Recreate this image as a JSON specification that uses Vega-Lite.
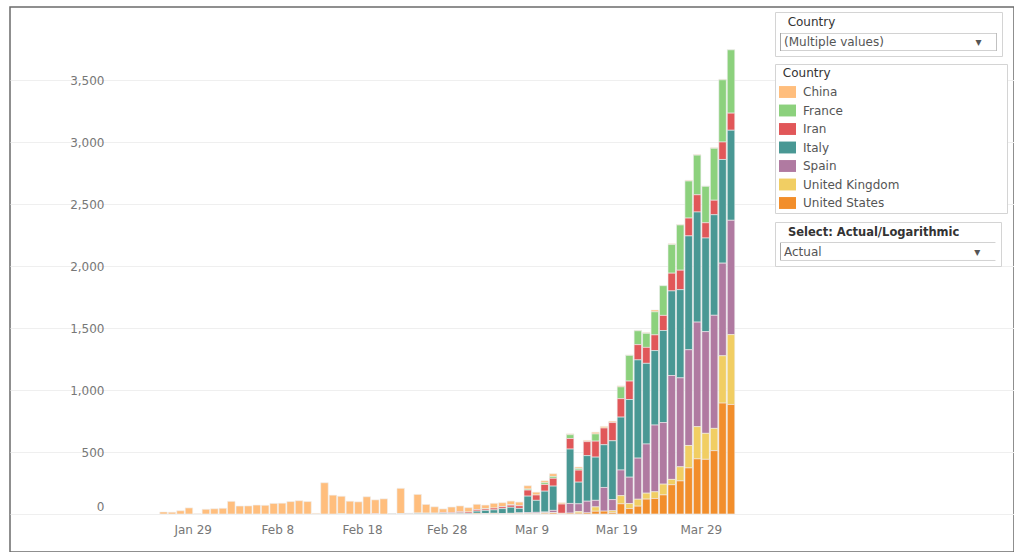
{
  "$schema": "https://vega.github.io/schema/vega-lite/v6.json",
  "width": 1004,
  "height": 545,
  "autosize": {"type": "none"},
  "padding": {"left": 10, "top": 7, "right": 0, "bottom": 0},
  "background": "white",
  "view": {"stroke": "#6b6b6b", "strokeWidth": 1.5},
  "config": {"font": "DejaVu Sans"},
  "resolve": {"scale": {"shape": "independent"}, "legend": {"shape": "independent"}},
  "layer": [
    {
      "data": {"values": [
        {"date":"2020-01-25","country":"China","deaths":16},{"date":"2020-01-26","country":"China","deaths":14},{"date":"2020-01-27","country":"China","deaths":26},{"date":"2020-01-28","country":"China","deaths":49},{"date":"2020-01-29","country":"China","deaths":2},{"date":"2020-01-30","country":"China","deaths":38},{"date":"2020-01-31","country":"China","deaths":42},
        {"date":"2020-02-01","country":"China","deaths":46},{"date":"2020-02-02","country":"China","deaths":102},{"date":"2020-02-03","country":"China","deaths":64},{"date":"2020-02-04","country":"China","deaths":65},{"date":"2020-02-05","country":"China","deaths":72},{"date":"2020-02-06","country":"China","deaths":70},{"date":"2020-02-07","country":"China","deaths":85},{"date":"2020-02-08","country":"China","deaths":87},{"date":"2020-02-09","country":"China","deaths":100},{"date":"2020-02-10","country":"China","deaths":107},{"date":"2020-02-11","country":"China","deaths":100},{"date":"2020-02-12","country":"China","deaths":5},{"date":"2020-02-13","country":"China","deaths":252},{"date":"2020-02-14","country":"China","deaths":152},{"date":"2020-02-15","country":"China","deaths":142},{"date":"2020-02-16","country":"China","deaths":103},{"date":"2020-02-17","country":"China","deaths":98},{"date":"2020-02-18","country":"China","deaths":139},{"date":"2020-02-19","country":"China","deaths":112},{"date":"2020-02-20","country":"China","deaths":122},{"date":"2020-02-22","country":"China","deaths":205},{"date":"2020-02-23","country":"China","deaths":2},{"date":"2020-02-24","country":"China","deaths":150},{"date":"2020-02-25","country":"China","deaths":70},{"date":"2020-02-26","country":"China","deaths":52},{"date":"2020-02-27","country":"China","deaths":29},{"date":"2020-02-28","country":"China","deaths":44},{"date":"2020-02-29","country":"China","deaths":47},
        {"date":"2020-03-01","country":"China","deaths":35},{"date":"2020-03-02","country":"China","deaths":42},{"date":"2020-03-03","country":"China","deaths":31},{"date":"2020-03-04","country":"China","deaths":38},{"date":"2020-03-05","country":"China","deaths":31},{"date":"2020-03-06","country":"China","deaths":30},{"date":"2020-03-07","country":"China","deaths":28},{"date":"2020-03-08","country":"China","deaths":27},{"date":"2020-03-09","country":"China","deaths":23},{"date":"2020-03-10","country":"China","deaths":16},{"date":"2020-03-11","country":"China","deaths":22},{"date":"2020-03-12","country":"China","deaths":11},{"date":"2020-03-13","country":"China","deaths":7},{"date":"2020-03-14","country":"China","deaths":13},{"date":"2020-03-15","country":"China","deaths":10},{"date":"2020-03-16","country":"China","deaths":14},{"date":"2020-03-17","country":"China","deaths":13},{"date":"2020-03-18","country":"China","deaths":11},{"date":"2020-03-19","country":"China","deaths":8},{"date":"2020-03-20","country":"China","deaths":4},{"date":"2020-03-21","country":"China","deaths":4},{"date":"2020-03-22","country":"China","deaths":6},{"date":"2020-03-23","country":"China","deaths":15},{"date":"2020-03-25","country":"China","deaths":7},{"date":"2020-03-26","country":"China","deaths":4},{"date":"2020-03-27","country":"China","deaths":6},{"date":"2020-03-28","country":"China","deaths":5},{"date":"2020-03-29","country":"China","deaths":3},{"date":"2020-03-30","country":"China","deaths":5},{"date":"2020-03-31","country":"China","deaths":4},{"date":"2020-04-01","country":"China","deaths":1},
        {"date":"2020-02-15","country":"France","deaths":1},{"date":"2020-02-26","country":"France","deaths":1},{"date":"2020-03-02","country":"France","deaths":1},{"date":"2020-03-03","country":"France","deaths":1},{"date":"2020-03-05","country":"France","deaths":2},{"date":"2020-03-06","country":"France","deaths":3},{"date":"2020-03-07","country":"France","deaths":2},{"date":"2020-03-08","country":"France","deaths":8},{"date":"2020-03-10","country":"France","deaths":14},{"date":"2020-03-11","country":"France","deaths":15},{"date":"2020-03-13","country":"France","deaths":31},{"date":"2020-03-14","country":"France","deaths":12},{"date":"2020-03-16","country":"France","deaths":58},{"date":"2020-03-19","country":"France","deaths":95},{"date":"2020-03-20","country":"France","deaths":207},{"date":"2020-03-21","country":"France","deaths":112},{"date":"2020-03-22","country":"France","deaths":113},{"date":"2020-03-23","country":"France","deaths":186},{"date":"2020-03-24","country":"France","deaths":240},{"date":"2020-03-25","country":"France","deaths":231},{"date":"2020-03-26","country":"France","deaths":365},{"date":"2020-03-27","country":"France","deaths":299},{"date":"2020-03-28","country":"France","deaths":320},{"date":"2020-03-29","country":"France","deaths":294},{"date":"2020-03-30","country":"France","deaths":419},{"date":"2020-03-31","country":"France","deaths":502},{"date":"2020-04-01","country":"France","deaths":511},
        {"date":"2020-02-19","country":"Iran","deaths":2},{"date":"2020-02-21","country":"Iran","deaths":2},{"date":"2020-02-22","country":"Iran","deaths":1},{"date":"2020-02-23","country":"Iran","deaths":3},{"date":"2020-02-24","country":"Iran","deaths":4},{"date":"2020-02-25","country":"Iran","deaths":4},{"date":"2020-02-26","country":"Iran","deaths":3},{"date":"2020-02-27","country":"Iran","deaths":7},{"date":"2020-02-28","country":"Iran","deaths":8},{"date":"2020-02-29","country":"Iran","deaths":9},{"date":"2020-03-01","country":"Iran","deaths":11},{"date":"2020-03-02","country":"Iran","deaths":12},{"date":"2020-03-03","country":"Iran","deaths":11},{"date":"2020-03-04","country":"Iran","deaths":15},{"date":"2020-03-05","country":"Iran","deaths":15},{"date":"2020-03-06","country":"Iran","deaths":17},{"date":"2020-03-07","country":"Iran","deaths":21},{"date":"2020-03-08","country":"Iran","deaths":49},{"date":"2020-03-09","country":"Iran","deaths":43},{"date":"2020-03-10","country":"Iran","deaths":54},{"date":"2020-03-11","country":"Iran","deaths":63},{"date":"2020-03-12","country":"Iran","deaths":75},{"date":"2020-03-13","country":"Iran","deaths":85},{"date":"2020-03-14","country":"Iran","deaths":97},{"date":"2020-03-15","country":"Iran","deaths":113},{"date":"2020-03-16","country":"Iran","deaths":129},{"date":"2020-03-17","country":"Iran","deaths":135},{"date":"2020-03-18","country":"Iran","deaths":147},{"date":"2020-03-19","country":"Iran","deaths":149},{"date":"2020-03-20","country":"Iran","deaths":149},{"date":"2020-03-21","country":"Iran","deaths":123},{"date":"2020-03-22","country":"Iran","deaths":129},{"date":"2020-03-23","country":"Iran","deaths":127},{"date":"2020-03-24","country":"Iran","deaths":122},{"date":"2020-03-25","country":"Iran","deaths":143},{"date":"2020-03-26","country":"Iran","deaths":157},{"date":"2020-03-27","country":"Iran","deaths":144},{"date":"2020-03-28","country":"Iran","deaths":139},{"date":"2020-03-29","country":"Iran","deaths":123},{"date":"2020-03-30","country":"Iran","deaths":117},{"date":"2020-03-31","country":"Iran","deaths":141},{"date":"2020-04-01","country":"Iran","deaths":138},
        {"date":"2020-02-21","country":"Italy","deaths":1},{"date":"2020-02-22","country":"Italy","deaths":1},{"date":"2020-02-23","country":"Italy","deaths":1},{"date":"2020-02-24","country":"Italy","deaths":4},{"date":"2020-02-25","country":"Italy","deaths":3},{"date":"2020-02-26","country":"Italy","deaths":2},{"date":"2020-02-27","country":"Italy","deaths":5},{"date":"2020-02-28","country":"Italy","deaths":4},{"date":"2020-02-29","country":"Italy","deaths":8},{"date":"2020-03-01","country":"Italy","deaths":5},{"date":"2020-03-02","country":"Italy","deaths":18},{"date":"2020-03-03","country":"Italy","deaths":27},{"date":"2020-03-04","country":"Italy","deaths":28},{"date":"2020-03-05","country":"Italy","deaths":41},{"date":"2020-03-06","country":"Italy","deaths":49},{"date":"2020-03-07","country":"Italy","deaths":36},{"date":"2020-03-08","country":"Italy","deaths":133},{"date":"2020-03-09","country":"Italy","deaths":97},{"date":"2020-03-10","country":"Italy","deaths":168},{"date":"2020-03-11","country":"Italy","deaths":196},{"date":"2020-03-13","country":"Italy","deaths":439},{"date":"2020-03-14","country":"Italy","deaths":175},{"date":"2020-03-15","country":"Italy","deaths":368},{"date":"2020-03-16","country":"Italy","deaths":349},{"date":"2020-03-17","country":"Italy","deaths":345},{"date":"2020-03-18","country":"Italy","deaths":475},{"date":"2020-03-19","country":"Italy","deaths":427},{"date":"2020-03-20","country":"Italy","deaths":627},{"date":"2020-03-21","country":"Italy","deaths":793},{"date":"2020-03-22","country":"Italy","deaths":651},{"date":"2020-03-23","country":"Italy","deaths":601},{"date":"2020-03-24","country":"Italy","deaths":743},{"date":"2020-03-25","country":"Italy","deaths":683},{"date":"2020-03-26","country":"Italy","deaths":712},{"date":"2020-03-27","country":"Italy","deaths":919},{"date":"2020-03-28","country":"Italy","deaths":889},{"date":"2020-03-29","country":"Italy","deaths":756},{"date":"2020-03-30","country":"Italy","deaths":812},{"date":"2020-03-31","country":"Italy","deaths":837},{"date":"2020-04-01","country":"Italy","deaths":727},
        {"date":"2020-03-03","country":"Spain","deaths":1},{"date":"2020-03-04","country":"Spain","deaths":1},{"date":"2020-03-05","country":"Spain","deaths":1},{"date":"2020-03-06","country":"Spain","deaths":2},{"date":"2020-03-07","country":"Spain","deaths":5},{"date":"2020-03-08","country":"Spain","deaths":7},{"date":"2020-03-09","country":"Spain","deaths":11},{"date":"2020-03-10","country":"Spain","deaths":7},{"date":"2020-03-11","country":"Spain","deaths":19},{"date":"2020-03-12","country":"Spain","deaths":1},{"date":"2020-03-13","country":"Spain","deaths":78},{"date":"2020-03-14","country":"Spain","deaths":62},{"date":"2020-03-15","country":"Spain","deaths":94},{"date":"2020-03-16","country":"Spain","deaths":53},{"date":"2020-03-17","country":"Spain","deaths":191},{"date":"2020-03-18","country":"Spain","deaths":90},{"date":"2020-03-19","country":"Spain","deaths":207},{"date":"2020-03-20","country":"Spain","deaths":213},{"date":"2020-03-21","country":"Spain","deaths":332},{"date":"2020-03-22","country":"Spain","deaths":397},{"date":"2020-03-23","country":"Spain","deaths":539},{"date":"2020-03-24","country":"Spain","deaths":497},{"date":"2020-03-25","country":"Spain","deaths":839},{"date":"2020-03-26","country":"Spain","deaths":718},{"date":"2020-03-27","country":"Spain","deaths":773},{"date":"2020-03-28","country":"Spain","deaths":844},{"date":"2020-03-29","country":"Spain","deaths":821},{"date":"2020-03-30","country":"Spain","deaths":913},{"date":"2020-03-31","country":"Spain","deaths":748},{"date":"2020-04-01","country":"Spain","deaths":923},
        {"date":"2020-03-06","country":"United Kingdom","deaths":1},{"date":"2020-03-07","country":"United Kingdom","deaths":1},{"date":"2020-03-09","country":"United Kingdom","deaths":1},{"date":"2020-03-10","country":"United Kingdom","deaths":3},{"date":"2020-03-11","country":"United Kingdom","deaths":2},{"date":"2020-03-14","country":"United Kingdom","deaths":13},{"date":"2020-03-16","country":"United Kingdom","deaths":35},{"date":"2020-03-18","country":"United Kingdom","deaths":16},{"date":"2020-03-19","country":"United Kingdom","deaths":66},{"date":"2020-03-20","country":"United Kingdom","deaths":40},{"date":"2020-03-21","country":"United Kingdom","deaths":56},{"date":"2020-03-22","country":"United Kingdom","deaths":48},{"date":"2020-03-23","country":"United Kingdom","deaths":54},{"date":"2020-03-24","country":"United Kingdom","deaths":87},{"date":"2020-03-25","country":"United Kingdom","deaths":43},{"date":"2020-03-26","country":"United Kingdom","deaths":114},{"date":"2020-03-27","country":"United Kingdom","deaths":181},{"date":"2020-03-28","country":"United Kingdom","deaths":260},{"date":"2020-03-29","country":"United Kingdom","deaths":210},{"date":"2020-03-30","country":"United Kingdom","deaths":180},{"date":"2020-03-31","country":"United Kingdom","deaths":382},{"date":"2020-04-01","country":"United Kingdom","deaths":564},
        {"date":"2020-02-29","country":"United States","deaths":1},{"date":"2020-03-02","country":"United States","deaths":5},{"date":"2020-03-03","country":"United States","deaths":1},{"date":"2020-03-04","country":"United States","deaths":4},{"date":"2020-03-05","country":"United States","deaths":1},{"date":"2020-03-06","country":"United States","deaths":2},{"date":"2020-03-07","country":"United States","deaths":3},{"date":"2020-03-08","country":"United States","deaths":4},{"date":"2020-03-09","country":"United States","deaths":1},{"date":"2020-03-10","country":"United States","deaths":6},{"date":"2020-03-11","country":"United States","deaths":8},{"date":"2020-03-12","country":"United States","deaths":4},{"date":"2020-03-13","country":"United States","deaths":7},{"date":"2020-03-14","country":"United States","deaths":7},{"date":"2020-03-15","country":"United States","deaths":9},{"date":"2020-03-16","country":"United States","deaths":22},{"date":"2020-03-17","country":"United States","deaths":23},{"date":"2020-03-18","country":"United States","deaths":10},{"date":"2020-03-19","country":"United States","deaths":82},{"date":"2020-03-20","country":"United States","deaths":44},{"date":"2020-03-21","country":"United States","deaths":63},{"date":"2020-03-22","country":"United States","deaths":120},{"date":"2020-03-23","country":"United States","deaths":125},{"date":"2020-03-24","country":"United States","deaths":154},{"date":"2020-03-25","country":"United States","deaths":236},{"date":"2020-03-26","country":"United States","deaths":267},{"date":"2020-03-27","country":"United States","deaths":372},{"date":"2020-03-28","country":"United States","deaths":445},{"date":"2020-03-29","country":"United States","deaths":441},{"date":"2020-03-30","country":"United States","deaths":511},{"date":"2020-03-31","country":"United States","deaths":895},{"date":"2020-04-01","country":"United States","deaths":884}
      ]},
      "mark": {"type": "bar", "stroke": "#eeeeee", "strokeWidth": 0.6},
      "encoding": {
        "x": {
          "field": "date", "type": "temporal", "timeUnit": "utcyearmonthdate",
          "scale": {"type": "utc", "nice": false, "domain": [
            {"year": 2020, "month": 1, "date": 7, "hours": 10, "minutes": 20, "utc": true},
            {"year": 2020, "month": 5, "date": 4, "hours": 23, "minutes": 15, "utc": true}
          ]},
          "axis": {
            "title": null, "orient": "bottom", "offset": -38,
            "values": [
              {"year": 2020, "month": 1, "date": 29, "utc": true},
              {"year": 2020, "month": 2, "date": 8, "utc": true},
              {"year": 2020, "month": 2, "date": 18, "utc": true},
              {"year": 2020, "month": 2, "date": 28, "utc": true},
              {"year": 2020, "month": 3, "date": 9, "utc": true},
              {"year": 2020, "month": 3, "date": 19, "utc": true},
              {"year": 2020, "month": 3, "date": 29, "utc": true}
            ],
            "format": "%b %-d", "domain": false, "ticks": false, "tickSize": 0, "grid": false,
            "labelPadding": 10, "labelFontSize": 12, "labelColor": "#777777", "labelOverlap": false, "labelFlush": false
          }
        },
        "y": {
          "field": "deaths", "type": "quantitative", "stack": "zero",
          "scale": {"domain": [-307, 4093], "nice": false, "zero": false},
          "axis": {
            "title": null, "orient": "left", "offset": -104,
            "values": [0, 500, 1000, 1500, 2000, 2500, 3000, 3500],
            "format": ",.0f", "domain": false, "ticks": false, "tickSize": 0,
            "grid": true, "gridColor": "#efefef", "gridWidth": 1,
            "labelBaseline": {"condition": {"test": "datum.value === 0", "value": "bottom"}, "value": "middle"},
            "labelPadding": 10, "labelFontSize": 12, "labelColor": "#777777"
          }
        },
        "color": {
          "field": "country", "type": "nominal",
          "scale": {
            "domain": ["China", "France", "Iran", "Italy", "Spain", "United Kingdom", "United States"],
            "range": ["#FFBE7D", "#8CD17D", "#E15759", "#499894", "#B07AA1", "#F1CE63", "#F28E2B"]
          },
          "legend": {
            "orient": "none", "legendX": 765, "legendY": 57,
            "title": "\u200b\u00a0Country\u00a0\u00a0\u00a0\u00a0\u00a0\u00a0\u00a0\u00a0\u00a0\u00a0\u00a0\u00a0\u00a0\u00a0\u00a0\u00a0\u00a0\u00a0\u00a0\u00a0\u00a0\u00a0\u00a0\u00a0\u00a0\u00a0\u00a0\u00a0\u00a0\u00a0\u00a0\u00a0\u00a0\u00a0\u00a0\u00a0\u00a0\u00a0\u00a0\u00a0\u00a0\u00a0\u00a0\u00a0\u00a0\u200b",
            "titleLimit": 400, "titleFontSize": 12, "titleFontWeight": "normal", "titleColor": "#333333", "titlePadding": 3.5,
            "padding": 4, "strokeColor": "#d4d4d4", "fillColor": "white",
            "symbolType": "M-1,-0.7H1V0.7H-1Z", "symbolSize": 289, "symbolStrokeWidth": 0,
            "labelOffset": 7, "rowPadding": 3.5, "labelFontSize": 12, "labelColor": "#555555", "labelLimit": 300
          }
        },
        "order": {"field": "country", "sort": "descending"}
      }
    },
    {
      "data": {"values": []},
      "mark": {"type": "point", "filled": false, "color": "#a6a6a6", "strokeWidth": 1, "size": 46656, "opacity": 1},
      "encoding": {
        "shape": {
          "field": "filter", "type": "nominal",
          "scale": {"domain": ["(Multiple values)"], "range": ["M-1,-0.0833H1V0.0833H-1Z"]},
          "legend": {
            "orient": "none", "legendX": 765, "legendY": 5,
            "title": "\u200b\u00a0\u00a0Country", "titleLimit": 400, "titleFontSize": 12, "titleFontWeight": "normal", "titleColor": "#333333", "titlePadding": 4,
            "padding": 5, "strokeColor": "#d4d4d4", "fillColor": "white",
            "symbolSize": 46656, "symbolStrokeWidth": 1, "symbolStrokeColor": "#a6a6a6",
            "clipHeight": 18, "labelOffset": -213, "labelLimit": 400, "labelFontSize": 12, "labelColor": "#555555",
            "labelExpr": "datum.label + '\u00a0\u00a0\u00a0\u00a0\u00a0\u00a0\u00a0\u00a0\u00a0\u00a0\u00a0\u00a0\u00a0\u00a0\u00a0\u00a0\u00a0\u00a0\u00a0\u00a0\u00a0\u00a0\u00a0\u00a0\u25be\u00a0\u00a0\u00a0\u00a0\u200b'"
          }
        }
      }
    },
    {
      "data": {"values": []},
      "mark": {"type": "point", "filled": false, "color": "#a6a6a6", "strokeWidth": 1, "size": 46656, "opacity": 1},
      "encoding": {
        "shape": {
          "field": "mode", "type": "nominal",
          "scale": {"domain": ["Actual"], "range": ["M-1,-0.0833H1V0.0833H-1Z"]},
          "legend": {
            "orient": "none", "legendX": 765, "legendY": 215,
            "title": "\u200b\u00a0\u00a0Select: Actual/Logarithmic", "titleLimit": 400, "titleFontSize": 11.5, "titleFontWeight": "bold", "titleColor": "#333333", "titlePadding": 4,
            "padding": 5, "strokeColor": "#d4d4d4", "fillColor": "white",
            "symbolSize": 46656, "symbolStrokeWidth": 1, "symbolStrokeColor": "#a6a6a6",
            "clipHeight": 18, "labelOffset": -213, "labelLimit": 400, "labelFontSize": 12, "labelColor": "#555555",
            "labelExpr": "datum.label + '\u00a0\u00a0\u00a0\u00a0\u00a0\u00a0\u00a0\u00a0\u00a0\u00a0\u00a0\u00a0\u00a0\u00a0\u00a0\u00a0\u00a0\u00a0\u00a0\u00a0\u00a0\u00a0\u00a0\u00a0\u00a0\u00a0\u00a0\u00a0\u00a0\u00a0\u00a0\u00a0\u00a0\u00a0\u00a0\u00a0\u00a0\u00a0\u00a0\u00a0\u25be\u00a0\u00a0\u00a0\u00a0\u200b'"
          }
        }
      }
    }
  ]
}
